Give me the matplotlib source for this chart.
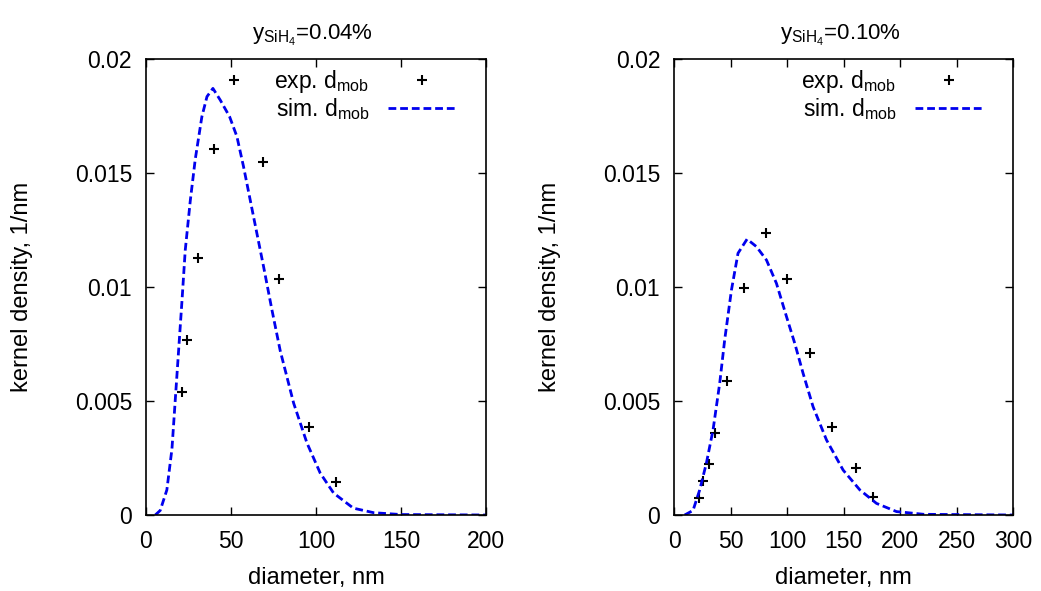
import matplotlib
matplotlib.use("Agg")
import matplotlib.pyplot as plt

plt.rcParams["font.family"] = ["Liberation Sans", "DejaVu Sans"]
plt.rcParams["mathtext.fontset"] = "custom"
plt.rcParams["mathtext.rm"] = "Liberation Sans"
plt.rcParams["mathtext.it"] = "Liberation Sans"
plt.rcParams["mathtext.bf"] = "Liberation Sans:bold"

# ── data: left panel (y_SiH4 = 0.04 %) ─────────────────────────────────────
exp1_d = [21.5, 24.3, 30.8, 40.2, 51.9, 68.6, 78.0, 96.1, 111.9]
exp1_k = [0.0054, 0.00768, 0.01127, 0.01607, 0.01908, 0.01548, 0.01037, 0.00386, 0.00146]
sim1_d = [5.5, 8.4, 12.3, 15.3, 17.2, 19.2, 21.2, 23.1, 26.1, 29.0, 32.9, 35.9, 39.4,
          43.7, 49.2, 53.5, 57.4, 63.3, 69.2, 74.1, 79.0, 86.9, 94.7, 102.5, 110.4,
          122.0, 134.0, 150.0, 200.0]
sim1_k = [0.0, 0.0002, 0.0011, 0.0029, 0.0050, 0.0072, 0.0094, 0.0116, 0.0138, 0.0156,
          0.01747, 0.01835, 0.01871, 0.0182, 0.01747, 0.0166, 0.01528, 0.01308, 0.01089,
          0.0090, 0.0072, 0.0049, 0.00316, 0.00184, 0.00096, 0.0003, 0.0001, 0.00002, 0.0]

# ── data: right panel (y_SiH4 = 0.10 %) ────────────────────────────────────
exp2_d = [21.9, 26.0, 31.0, 36.0, 47.2, 62.0, 81.2, 99.7, 120.1, 139.9, 160.8, 175.6]
exp2_k = [0.00076, 0.0015, 0.00224, 0.00358, 0.00588, 0.00996, 0.01237, 0.01037,
          0.00712, 0.00386, 0.00206, 0.0008]
sim2_d = [9.4, 16.8, 22.7, 28.6, 34.5, 40.4, 44.8, 50.8, 56.6, 64.6, 72.9, 81.8, 90.6,
          99.5, 106.8, 114.2, 123.0, 134.9, 149.6, 164.4, 179.1, 196.8, 221.0, 300.0]
sim2_k = [0.0, 0.0002, 0.0011, 0.00227, 0.00373, 0.00578, 0.00768, 0.00987, 0.01148,
          0.0121, 0.01177, 0.01118, 0.01016, 0.0087, 0.00753, 0.00621, 0.00475, 0.00329,
          0.00197, 0.0011, 0.00051, 0.00015, 0.00003, 0.0]

titles = [r"y$_{\mathrm{SiH_4}}$=0.04%", r"y$_{\mathrm{SiH_4}}$=0.10%"]
xlims = [(0, 200), (0, 300)]
xticks = [[0, 50, 100, 150, 200], [0, 50, 100, 150, 200, 250, 300]]
yticks = [0, 0.005, 0.01, 0.015, 0.02]
ytick_labels = ["0", "0.005", "0.01", "0.015", "0.02"]

FS = 16.5
fig = plt.figure(figsize=(10.41, 5.91), dpi=100)
ax1 = fig.add_axes([0.1402, 0.1286, 0.3266, 0.7716])
ax2 = fig.add_axes([0.6475, 0.1286, 0.3257, 0.7716])

panels = [(ax1, exp1_d, exp1_k, sim1_d, sim1_k), (ax2, exp2_d, exp2_k, sim2_d, sim2_k)]
for i, (ax, ed, ek, sd, sk) in enumerate(panels):
    ax.plot(ed, ek, linestyle="none", marker="+", markersize=6.5, markeredgewidth=1.5,
            color="black", label=r"exp. d$_{\mathrm{mob}}$")
    ax.plot(sd, sk, linestyle=(0, (2.8, 1.4)), linewidth=2.0, color="#0000ee",
            label=r"sim. d$_{\mathrm{mob}}$")
    ax.set_xlim(*xlims[i])
    ax.set_ylim(0, 0.02)
    ax.set_xticks(xticks[i])
    ax.set_yticks(yticks)
    ax.set_yticklabels(ytick_labels)
    ax.tick_params(direction="in", top=True, right=True, length=6, width=1,
                   labelsize=FS)
    ax.tick_params(axis="y", pad=10)
    ax.tick_params(axis="x", pad=11)
    for sp in ax.spines.values():
        sp.set_linewidth(1.2)
    ax.set_xlabel("diameter, nm", fontsize=FS + 0.5, labelpad=10)
    ax.set_ylabel("kernel density, 1/nm", fontsize=FS + 0.5, labelpad=30)
    ax.set_title(titles[i], fontsize=16, pad=14, x=0.49)
    ax.legend(loc="upper right", frameon=False, markerfirst=False, fontsize=FS,
              handlelength=3.0, handletextpad=0.8, labelspacing=0.02,
              borderaxespad=0.0, bbox_to_anchor=(0.94, 1.0))

fig.savefig("out.png", dpi=100)
